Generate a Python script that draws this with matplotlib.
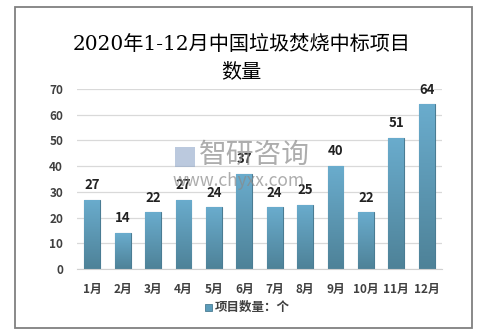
import numpy as np
import matplotlib
matplotlib.use("Agg")
import matplotlib.pyplot as plt
from matplotlib.patches import Rectangle

plt.rcParams["font.family"] = ["Noto Sans CJK SC", "DejaVu Sans"]

months = ["1月", "2月", "3月", "4月", "5月", "6月", "7月", "8月", "9月", "10月", "11月", "12月"]
counts = [27, 14, 22, 27, 24, 37, 24, 25, 40, 22, 51, 64]
yticks = [0, 10, 20, 30, 40, 50, 60, 70]
title = "2020年1-12月中国垃圾焚烧中标项目\n数量"
legend_label = "项目数量：个"

W, H = 483, 335
fig = plt.figure(figsize=(W / 100, H / 100), dpi=100)
fig.patch.set_facecolor("white")

# outer frame
fig.add_artist(Rectangle((15 / W, 1 - 328 / H), 457 / W, 321 / H, transform=fig.transFigure,
                         fill=False, edgecolor="#808080", linewidth=1.3))

ax = fig.add_axes([77 / W, 1 - 269 / H, 365 / W, 180 / H])
x = np.arange(len(months))
bars = ax.bar(x, counts, width=0.52, color="#5b9cba", edgecolor="#4a7c93", linewidth=0.8, zorder=2)

# vertical gradient inside each bar
grad = np.linspace(0, 1, 100).reshape(-1, 1)
cmap = matplotlib.colors.LinearSegmentedColormap.from_list("g", ["#4e8298", "#6aaccd"])
for b in bars:
    x0, y0 = b.get_x(), b.get_y()
    im = ax.imshow(grad, extent=[x0, x0 + b.get_width(), y0, y0 + b.get_height()],
                   origin="lower", aspect="auto", cmap=cmap, zorder=2.5)
    im.set_clip_path(b)

for xi, v in zip(x, counts):
    ax.text(xi, v + 3, str(v), ha="center", va="bottom", fontsize=9.5, fontweight="bold", color="#222222")

ax.set_xlim(-0.5, len(months) - 0.5)
ax.set_ylim(0, 70)
ax.set_yticks(yticks)
ax.set_xticks(x)
ax.set_xticklabels(months)
ax.grid(axis="y", color="#d9d9d9", linewidth=0.9, zorder=0)
ax.set_axisbelow(True)
for s in ["top", "right", "left"]:
    ax.spines[s].set_visible(False)
ax.spines["bottom"].set_color("#d0d0d0")
ax.tick_params(axis="both", length=0, labelsize=8.5, labelcolor="#404040")
ax.tick_params(axis="x", pad=10)
ax.tick_params(axis="y", pad=10)
for lab in ax.get_xticklabels() + ax.get_yticklabels():
    lab.set_fontweight("bold")

fig.text(0.5, 1 - 58 / H, title, ha="center", va="center", fontsize=14.5,
         family=["DejaVu Serif", "Noto Sans CJK SC"], linespacing=1.5, color="black")

# legend
fig.add_artist(Rectangle((205 / W, 1 - 311 / H), 7 / W, 7 / H, transform=fig.transFigure,
                         facecolor="#5b9cba", edgecolor="#4a7c93", linewidth=0.6))
fig.text(215 / W, 1 - 307 / H, legend_label, ha="left", va="center", fontsize=9,
         fontweight="bold", color="#404040")

# watermark
fig.text(199 / W, 1 - 155 / H, "智研咨询", ha="left", va="center", fontsize=20,
         color="#8a8a8a", alpha=0.7)
fig.text(173 / W, 1 - 181 / H, "www.chyxx.com", ha="left", va="center", fontsize=12.5,
         color="#8a8a8a", alpha=0.7)
fig.add_artist(Rectangle((175 / W, 1 - 167 / H), 20 / W, 20 / H, transform=fig.transFigure,
                         facecolor="#8fa6c8", edgecolor="none", alpha=0.6))

fig.savefig("out.png", dpi=100, facecolor="white")
